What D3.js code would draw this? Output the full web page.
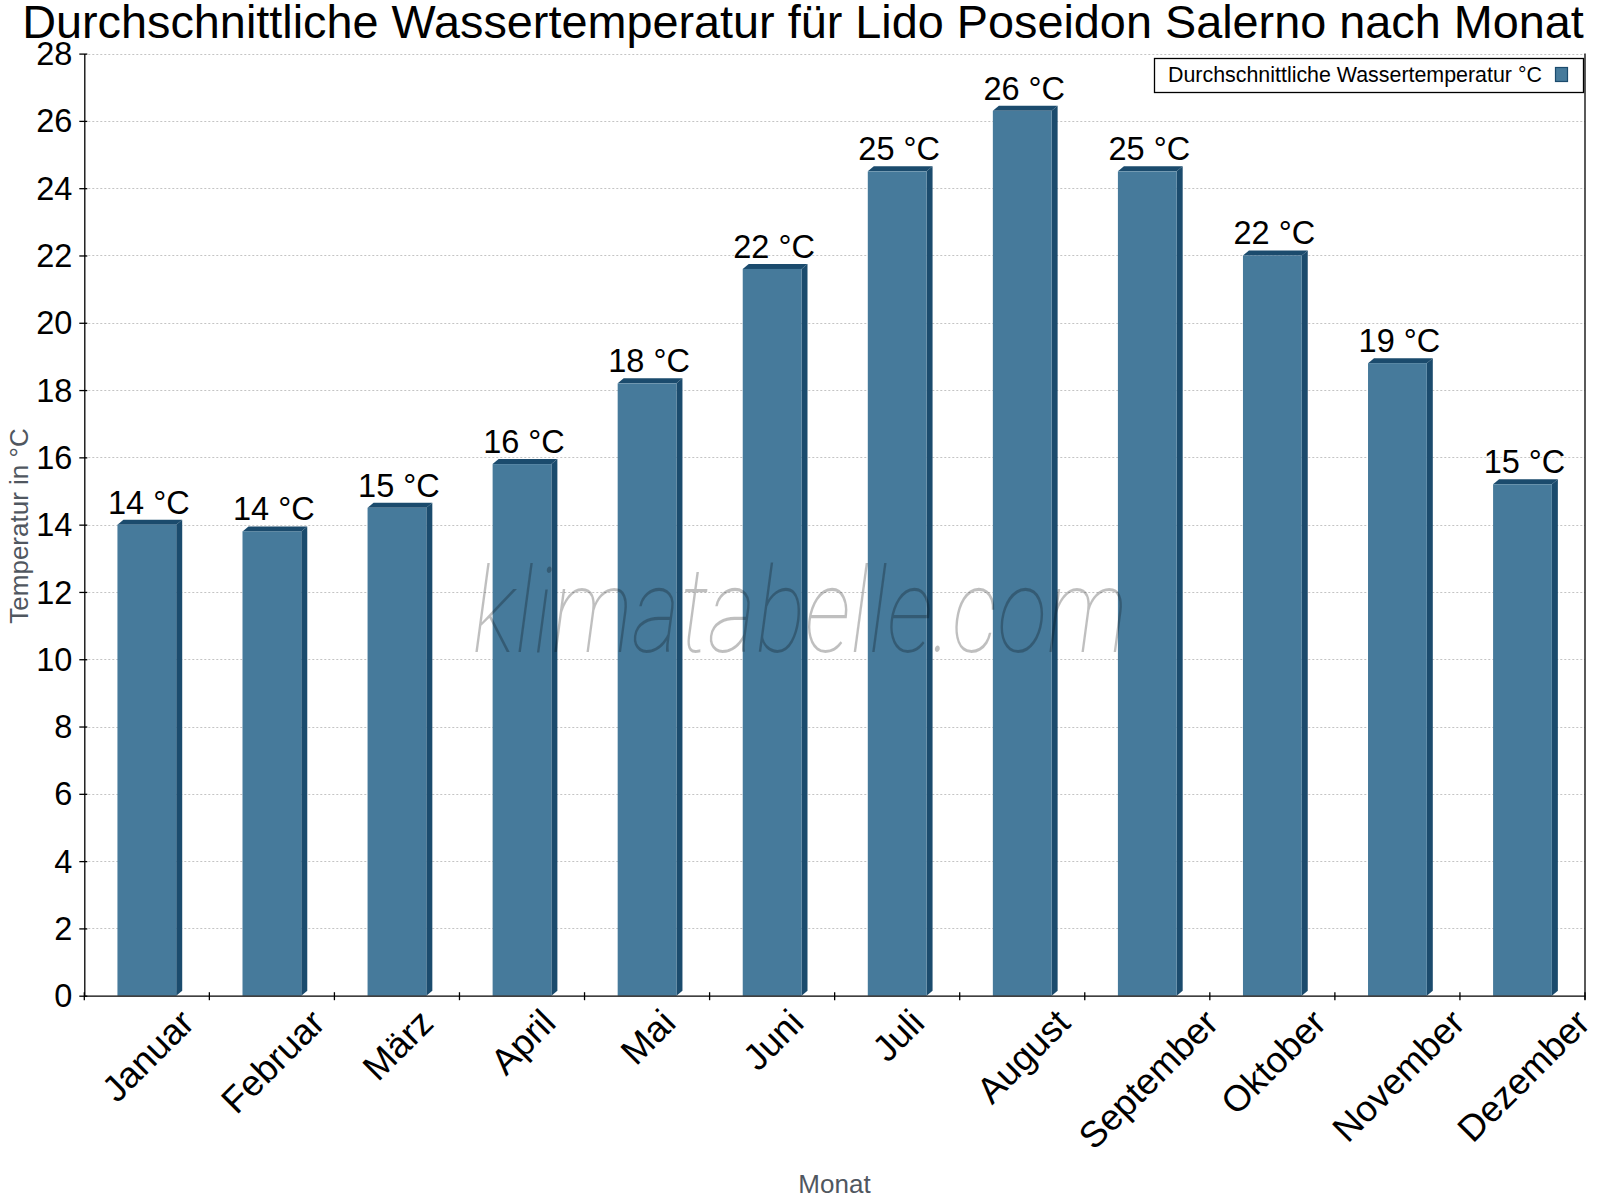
<!DOCTYPE html>
<html>
<head>
<meta charset="utf-8">
<script src="https://cdn.jsdelivr.net/npm/d3@7"></script>
<style>
  html, body { margin: 0; padding: 0; background: #fff; }
  svg { display: block; }
</style>
</head>
<body>
<script>
// ---- Data ----
const months = ["Januar", "Februar", "März", "April", "Mai", "Juni", "Juli", "August", "September", "Oktober", "November", "Dezember"];
const waterTemp = [14.0, 13.8, 14.5, 15.8, 18.2, 21.6, 24.5, 26.3, 24.5, 22.0, 18.8, 15.2];
const yTicks = [0, 2, 4, 6, 8, 10, 12, 14, 16, 18, 20, 22, 24, 26, 28];
const titleText = "Durchschnittliche Wassertemperatur für Lido Poseidon Salerno nach Monat";
const seriesName = "Durchschnittliche Wassertemperatur °C";
const yTitle = "Temperatur in °C";
const xTitle = "Monat";
const watermark = "klimatabelle.com";

(function () {
// ---- Layout ----
const W = 1600, H = 1200;
const pL = 84.3, pR = 1585, pT = 53.6, pB = 995.7;
const front = "#467a9b", dark = "#1b4b6d";
const FONT = "'Liberation Sans', Arial, Helvetica, sans-serif";

const svg = d3.select("body").append("svg")
  .attr("width", W).attr("height", H)
  .style("font-family", FONT);

const x = d3.scaleBand().domain(months).range([pL, pR]).paddingInner(0).paddingOuter(0);
const y = d3.scaleLinear().domain([0, 28]).range([pB, pT]);

// Title
svg.append("text")
  .attr("x", 803).attr("y", 37.5)
  .attr("text-anchor", "middle")
  .attr("font-size", 46.8)
  .attr("fill", "#000")
  .text(titleText);

// Gridlines
svg.append("g").selectAll("line")
  .data(yTicks.filter(d => d > 0))
  .join("line")
  .attr("x1", pL).attr("x2", pR)
  .attr("y1", d => Math.round(y(d)) + 0.5).attr("y2", d => Math.round(y(d)) + 0.5)
  .attr("stroke", "#c4c4c4")
  .attr("stroke-width", 1)
  .attr("stroke-dasharray", "2,2");

// Bars (3D style)
const bw = x.bandwidth() * 0.47;
const dx = 6, dy = 5;
const bars = svg.append("g");
months.forEach((m, i) => {
  const v = waterTemp[i];
  const cx = x(m) + x.bandwidth() / 2;
  const x0 = cx - bw / 2, x1 = cx + bw / 2;
  const yt = y(v), y0 = y(0);
  bars.append("polygon")
    .attr("points", [[x1, yt], [x1 + dx, yt - dy], [x1 + dx, y0 - dy], [x1, y0]].map(p => p.join(",")).join(" "))
    .attr("fill", dark);
  bars.append("polygon")
    .attr("points", [[x0, yt], [x0 + dx, yt - dy], [x1 + dx, yt - dy], [x1, yt]].map(p => p.join(",")).join(" "))
    .attr("fill", dark);
  bars.append("rect")
    .attr("x", x0).attr("y", yt)
    .attr("width", bw).attr("height", y0 - yt)
    .attr("fill", front);
  bars.append("text")
    .attr("x", cx + 2).attr("y", yt - 11)
    .attr("text-anchor", "middle")
    .attr("font-size", 32.5)
    .attr("fill", "#000")
    .text(Math.round(v) + " °C");
});

// Y axis
const yAxis = svg.append("g")
  .attr("transform", `translate(${pL},0)`)
  .call(d3.axisLeft(y).tickValues(yTicks).tickSizeOuter(0).tickSizeInner(5).tickPadding(7));
yAxis.select(".domain").attr("stroke", "#000").attr("stroke-width", 1.3);
yAxis.selectAll(".tick line").attr("x1", 3).attr("x2", -5).attr("stroke", "#000").attr("stroke-width", 1.3);
yAxis.selectAll(".tick text")
  .attr("font-size", 32.5).attr("font-family", FONT).attr("fill", "#000")
  .attr("dy", "0.34em");

// Right border
svg.append("line")
  .attr("x1", pR).attr("x2", pR).attr("y1", pT).attr("y2", pB + 4)
  .attr("stroke", "#000").attr("stroke-width", 1.3);

// X axis line
const xAxis = svg.append("g")
  .attr("transform", `translate(0,${pB})`)
  .call(d3.axisBottom(x).tickSize(0).tickSizeOuter(0).tickFormat(""));
xAxis.select(".domain").attr("stroke", "#000").attr("stroke-width", 1.3);

// X ticks at band edges
const edges = d3.range(months.length + 1).map(i => x.range()[0] + i * x.step());
svg.append("g").selectAll("line")
  .data(edges).join("line")
  .attr("x1", d => d).attr("x2", d => d)
  .attr("y1", pB - 3.5).attr("y2", pB + 4.5)
  .attr("stroke", "#000").attr("stroke-width", 1.3);

// X tick labels rotated 45°
const labelTop = pB + 6;
months.forEach(m => {
  const cx = x(m) + x.bandwidth() / 2 + 1;
  const outer = svg.append("g");
  const inner = outer.append("g");
  inner.append("text")
    .attr("transform", "rotate(-45)")
    .attr("text-anchor", "middle")
    .attr("font-size", 36.5)
    .attr("fill", "#000")
    .text(m);
  const bb = inner.node().getBBox();
  inner.attr("transform", `translate(${cx - (bb.x + bb.width / 2)},${labelTop - bb.y})`);
});

// Axis titles
svg.append("text")
  .attr("transform", `translate(27.8,526) rotate(-90)`)
  .attr("text-anchor", "middle")
  .attr("font-size", 26)
  .attr("fill", "#50575f")
  .text(yTitle);

svg.append("text")
  .attr("x", 834.5).attr("y", 1193)
  .attr("text-anchor", "middle")
  .attr("font-size", 26)
  .attr("fill", "#50575f")
  .text(xTitle);

// Legend
const lg = svg.append("g");
lg.append("rect")
  .attr("x", 1154.5).attr("y", 58.5)
  .attr("width", 1583.5 - 1154.5).attr("height", 34)
  .attr("fill", "#fff").attr("stroke", "#000").attr("stroke-width", 1.3);
lg.append("text")
  .attr("x", 1168).attr("y", 82)
  .attr("font-size", 21.4)
  .attr("fill", "#000")
  .text(seriesName);
lg.append("rect")
  .attr("x", 1555.5).attr("y", 67.5).attr("width", 12).attr("height", 14)
  .attr("fill", front).attr("stroke", dark).attr("stroke-width", 1.2);

// Watermark
svg.append("text")
  .attr("x", 800).attr("y", 651.5)
  .attr("text-anchor", "middle")
  .attr("font-family", "Roboto, 'Open Sans', sans-serif")
  .attr("font-style", "italic")
  .attr("font-weight", 100)
  .attr("font-size", 118)
  .attr("textLength", 655)
  .attr("lengthAdjust", "spacingAndGlyphs")
  .attr("fill", "#000")
  .attr("fill-opacity", 0.25)
  .text(watermark);
})();
</script>
</body>
</html>
